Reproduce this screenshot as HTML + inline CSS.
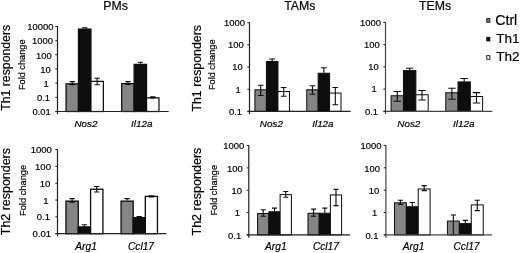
<!DOCTYPE html>
<html><head><meta charset="utf-8"><title>Figure</title>
<style>
html,body{margin:0;padding:0;background:#fff;}
svg{display:block;font-family:"Liberation Sans", sans-serif;}
svg text{fill:#000;stroke:#000;stroke-width:0.2px;}
</style></head><body>
<svg width="520" height="253" viewBox="0 0 520 253">
<defs><filter id="soft" x="0" y="0" width="520" height="253" filterUnits="userSpaceOnUse"><feGaussianBlur stdDeviation="0.3"/></filter></defs>
<rect width="520" height="253" fill="#fff"/>
<g filter="url(#soft)">
<rect x="66.03" y="83.83" width="12.45" height="27.67" fill="#858585" stroke="#0c0c0c" stroke-width="1.25"/>
<rect x="78.48" y="29.12" width="12.45" height="82.38" fill="#0c0c0c" stroke="#0c0c0c" stroke-width="1.25"/>
<rect x="90.93" y="81.38" width="12.45" height="30.12" fill="#fff" stroke="#0c0c0c" stroke-width="1.25"/>
<path d="M72.25 81.60V84.60M69.60 81.60H74.90M69.60 84.60H74.90" stroke="#0c0c0c" stroke-width="1.1" fill="none"/>
<path d="M84.71 27.90V28.50M82.06 27.90H87.36" stroke="#0c0c0c" stroke-width="1.1" fill="none"/>
<path d="M97.16 78.25V84.75M94.51 78.25H99.81M94.51 84.75H99.81" stroke="#0c0c0c" stroke-width="1.1" fill="none"/>
<rect x="121.72" y="83.62" width="12.41" height="27.88" fill="#858585" stroke="#0c0c0c" stroke-width="1.25"/>
<rect x="134.14" y="64.38" width="12.41" height="47.12" fill="#0c0c0c" stroke="#0c0c0c" stroke-width="1.25"/>
<rect x="146.55" y="97.83" width="12.41" height="13.67" fill="#fff" stroke="#0c0c0c" stroke-width="1.25"/>
<path d="M127.93 81.60V84.40M125.28 81.60H130.58M125.28 84.40H130.58" stroke="#0c0c0c" stroke-width="1.1" fill="none"/>
<path d="M140.34 62.25V63.75M137.69 62.25H143.00" stroke="#0c0c0c" stroke-width="1.1" fill="none"/>
<path d="M152.76 96.70V97.90M150.11 96.70H155.41M150.11 97.90H155.41" stroke="#0c0c0c" stroke-width="1.1" fill="none"/>
<path d="M57.50 26.00V114.30M55.50 111.50H168.70" stroke="#222" stroke-width="1.2" fill="none"/>
<path d="M55.30 26.50H57.50" stroke="#222" stroke-width="1"/>
<text x="53.60" y="30.30" font-size="9.45" text-anchor="end">10000</text>
<path d="M55.30 40.67H57.50" stroke="#222" stroke-width="1"/>
<text x="53.10" y="44.47" font-size="9.45" text-anchor="end">1000</text>
<path d="M55.30 54.83H57.50" stroke="#222" stroke-width="1"/>
<text x="51.70" y="58.63" font-size="9.45" text-anchor="end">100</text>
<path d="M55.30 69.00H57.50" stroke="#222" stroke-width="1"/>
<text x="50.80" y="72.80" font-size="9.45" text-anchor="end">10</text>
<path d="M55.30 83.17H57.50" stroke="#222" stroke-width="1"/>
<text x="48.80" y="86.97" font-size="9.45" text-anchor="end">1</text>
<path d="M55.30 97.33H57.50" stroke="#222" stroke-width="1"/>
<text x="50.10" y="101.13" font-size="9.45" text-anchor="end">0.1</text>
<path d="M55.30 111.50H57.50" stroke="#222" stroke-width="1"/>
<text x="50.80" y="115.30" font-size="9.45" text-anchor="end">0.01</text>
<text x="86.00" y="127.30" font-size="9.9" font-style="italic" stroke-width="0.48" text-anchor="middle">Nos2</text>
<text x="141.80" y="127.30" font-size="9.9" font-style="italic" stroke-width="0.48" text-anchor="middle">Il12a</text>
<rect x="254.90" y="89.80" width="11.52" height="21.60" fill="#858585" stroke="#0c0c0c" stroke-width="1.0"/>
<rect x="266.42" y="61.50" width="11.52" height="49.90" fill="#0c0c0c" stroke="#0c0c0c" stroke-width="1.0"/>
<rect x="277.93" y="91.50" width="11.52" height="19.90" fill="#fff" stroke="#0c0c0c" stroke-width="1.0"/>
<path d="M260.66 85.30V95.50M257.76 85.30H263.56M257.76 95.50H263.56" stroke="#0c0c0c" stroke-width="1.1" fill="none"/>
<path d="M272.18 59.00V61.00M269.28 59.00H275.07" stroke="#0c0c0c" stroke-width="1.1" fill="none"/>
<path d="M283.69 87.50V96.30M280.79 87.50H286.59M280.79 96.30H286.59" stroke="#0c0c0c" stroke-width="1.1" fill="none"/>
<rect x="306.75" y="89.80" width="11.42" height="21.60" fill="#858585" stroke="#0c0c0c" stroke-width="1.0"/>
<rect x="318.17" y="73.25" width="11.42" height="38.15" fill="#0c0c0c" stroke="#0c0c0c" stroke-width="1.0"/>
<rect x="329.58" y="93.10" width="11.42" height="18.30" fill="#fff" stroke="#0c0c0c" stroke-width="1.0"/>
<path d="M312.46 85.80V94.25M309.56 85.80H315.36M309.56 94.25H315.36" stroke="#0c0c0c" stroke-width="1.1" fill="none"/>
<path d="M323.88 67.75V72.75M320.98 67.75H326.77" stroke="#0c0c0c" stroke-width="1.1" fill="none"/>
<path d="M335.29 87.50V104.75M332.39 87.50H338.19M332.39 104.75H338.19" stroke="#0c0c0c" stroke-width="1.1" fill="none"/>
<path d="M249.50 22.25V114.20M247.50 111.40H350.60" stroke="#222" stroke-width="1.2" fill="none"/>
<path d="M247.30 22.75H249.50" stroke="#222" stroke-width="1"/>
<text x="245.10" y="26.05" font-size="9.45" text-anchor="end">1000</text>
<path d="M247.30 44.91H249.50" stroke="#222" stroke-width="1"/>
<text x="243.70" y="48.21" font-size="9.45" text-anchor="end">100</text>
<path d="M247.30 67.08H249.50" stroke="#222" stroke-width="1"/>
<text x="242.80" y="70.38" font-size="9.45" text-anchor="end">10</text>
<path d="M247.30 89.24H249.50" stroke="#222" stroke-width="1"/>
<text x="240.80" y="92.54" font-size="9.45" text-anchor="end">1</text>
<path d="M247.30 111.40H249.50" stroke="#222" stroke-width="1"/>
<text x="242.10" y="114.70" font-size="9.45" text-anchor="end">0.1</text>
<text x="271.40" y="126.90" font-size="9.9" font-style="italic" stroke-width="0.48" text-anchor="middle">Nos2</text>
<text x="322.90" y="126.90" font-size="9.9" font-style="italic" stroke-width="0.48" text-anchor="middle">Il12a</text>
<rect x="391.10" y="95.75" width="12.37" height="15.55" fill="#858585" stroke="#0c0c0c" stroke-width="1.0"/>
<rect x="403.47" y="70.60" width="12.37" height="40.70" fill="#0c0c0c" stroke="#0c0c0c" stroke-width="1.0"/>
<rect x="415.83" y="94.75" width="12.37" height="16.55" fill="#fff" stroke="#0c0c0c" stroke-width="1.0"/>
<path d="M397.28 91.50V101.25M393.58 91.50H400.98M393.58 101.25H400.98" stroke="#0c0c0c" stroke-width="1.1" fill="none"/>
<path d="M409.65 68.25V70.10M405.95 68.25H413.35" stroke="#0c0c0c" stroke-width="1.1" fill="none"/>
<path d="M422.02 90.50V100.00M418.32 90.50H425.72M418.32 100.00H425.72" stroke="#0c0c0c" stroke-width="1.1" fill="none"/>
<rect x="445.75" y="92.75" width="12.29" height="18.55" fill="#858585" stroke="#0c0c0c" stroke-width="1.0"/>
<rect x="458.04" y="81.90" width="12.29" height="29.40" fill="#0c0c0c" stroke="#0c0c0c" stroke-width="1.0"/>
<rect x="470.32" y="96.50" width="12.29" height="14.80" fill="#fff" stroke="#0c0c0c" stroke-width="1.0"/>
<path d="M451.89 88.25V99.25M448.19 88.25H455.59M448.19 99.25H455.59" stroke="#0c0c0c" stroke-width="1.1" fill="none"/>
<path d="M464.18 78.50V81.40M460.48 78.50H467.88" stroke="#0c0c0c" stroke-width="1.1" fill="none"/>
<path d="M476.47 92.60V103.00M472.77 92.60H480.17M472.77 103.00H480.17" stroke="#0c0c0c" stroke-width="1.1" fill="none"/>
<path d="M385.50 21.90V114.10M383.50 111.30H492.30" stroke="#444" stroke-width="1.2" fill="none"/>
<path d="M383.30 22.40H385.50" stroke="#222" stroke-width="1"/>
<text x="381.10" y="25.80" font-size="9.45" text-anchor="end">1000</text>
<path d="M383.30 44.62H385.50" stroke="#222" stroke-width="1"/>
<text x="379.70" y="48.02" font-size="9.45" text-anchor="end">100</text>
<path d="M383.30 66.85H385.50" stroke="#222" stroke-width="1"/>
<text x="378.80" y="70.25" font-size="9.45" text-anchor="end">10</text>
<path d="M383.30 89.08H385.50" stroke="#222" stroke-width="1"/>
<text x="376.80" y="92.48" font-size="9.45" text-anchor="end">1</text>
<path d="M383.30 111.30H385.50" stroke="#222" stroke-width="1"/>
<text x="378.10" y="114.70" font-size="9.45" text-anchor="end">0.1</text>
<text x="408.80" y="126.80" font-size="9.9" font-style="italic" stroke-width="0.48" text-anchor="middle">Nos2</text>
<text x="463.80" y="126.80" font-size="9.9" font-style="italic" stroke-width="0.48" text-anchor="middle">Il12a</text>
<rect x="65.95" y="201.15" width="12.32" height="32.55" fill="#858585" stroke="#0c0c0c" stroke-width="1.3"/>
<rect x="78.27" y="226.90" width="12.32" height="6.80" fill="#0c0c0c" stroke="#0c0c0c" stroke-width="1.3"/>
<rect x="90.58" y="189.25" width="12.32" height="44.45" fill="#fff" stroke="#0c0c0c" stroke-width="1.3"/>
<path d="M72.11 198.60V202.10M69.41 198.60H74.81M69.41 202.10H74.81" stroke="#0c0c0c" stroke-width="1.1" fill="none"/>
<path d="M84.42 224.75V226.25M81.72 224.75H87.12" stroke="#0c0c0c" stroke-width="1.1" fill="none"/>
<path d="M96.74 186.50V192.00M94.04 186.50H99.44M94.04 192.00H99.44" stroke="#0c0c0c" stroke-width="1.1" fill="none"/>
<rect x="121.05" y="201.15" width="12.14" height="32.55" fill="#858585" stroke="#0c0c0c" stroke-width="1.3"/>
<rect x="133.19" y="217.65" width="12.14" height="16.05" fill="#0c0c0c" stroke="#0c0c0c" stroke-width="1.3"/>
<rect x="145.32" y="196.40" width="12.14" height="37.30" fill="#fff" stroke="#0c0c0c" stroke-width="1.3"/>
<path d="M127.12 198.60V200.50M124.42 198.60H129.82" stroke="#0c0c0c" stroke-width="1.1" fill="none"/>
<path d="M139.25 216.60V217.00M136.56 216.60H141.95" stroke="#0c0c0c" stroke-width="1.1" fill="none"/>
<path d="M151.39 195.75V196.90M148.69 195.75H154.09M148.69 196.90H154.09" stroke="#0c0c0c" stroke-width="1.1" fill="none"/>
<path d="M57.50 149.00V236.50M55.50 233.70H166.30" stroke="#222" stroke-width="1.2" fill="none"/>
<path d="M55.30 149.50H57.50" stroke="#222" stroke-width="1"/>
<text x="51.90" y="153.10" font-size="9.55" text-anchor="end">1000</text>
<path d="M55.30 166.34H57.50" stroke="#222" stroke-width="1"/>
<text x="51.00" y="169.94" font-size="9.55" text-anchor="end">100</text>
<path d="M55.30 183.18H57.50" stroke="#222" stroke-width="1"/>
<text x="50.30" y="186.78" font-size="9.55" text-anchor="end">10</text>
<path d="M55.30 200.02H57.50" stroke="#222" stroke-width="1"/>
<text x="48.60" y="203.62" font-size="9.55" text-anchor="end">1</text>
<path d="M55.30 216.86H57.50" stroke="#222" stroke-width="1"/>
<text x="50.00" y="220.46" font-size="9.55" text-anchor="end">0.1</text>
<path d="M55.30 233.70H57.50" stroke="#222" stroke-width="1"/>
<text x="51.20" y="237.30" font-size="9.55" text-anchor="end">0.01</text>
<text x="86.10" y="250.30" font-size="10.2" font-style="italic" stroke-width="0.48" text-anchor="middle">Arg1</text>
<text x="141.00" y="250.30" font-size="10.2" font-style="italic" stroke-width="0.48" text-anchor="middle">Ccl17</text>
<rect x="257.60" y="213.50" width="11.27" height="21.40" fill="#858585" stroke="#0c0c0c" stroke-width="1.0"/>
<rect x="268.87" y="211.75" width="11.27" height="23.15" fill="#0c0c0c" stroke="#0c0c0c" stroke-width="1.0"/>
<rect x="280.13" y="194.60" width="11.27" height="40.30" fill="#fff" stroke="#0c0c0c" stroke-width="1.0"/>
<path d="M263.23 209.75V216.30M260.73 209.75H265.73M260.73 216.30H265.73" stroke="#0c0c0c" stroke-width="1.1" fill="none"/>
<path d="M274.50 208.10V211.25M272.00 208.10H277.00" stroke="#0c0c0c" stroke-width="1.1" fill="none"/>
<path d="M285.77 191.50V197.25M283.27 191.50H288.27M283.27 197.25H288.27" stroke="#0c0c0c" stroke-width="1.1" fill="none"/>
<rect x="308.00" y="213.25" width="11.20" height="21.65" fill="#858585" stroke="#0c0c0c" stroke-width="1.0"/>
<rect x="319.20" y="213.25" width="11.20" height="21.65" fill="#0c0c0c" stroke="#0c0c0c" stroke-width="1.0"/>
<rect x="330.39" y="194.90" width="11.20" height="40.00" fill="#fff" stroke="#0c0c0c" stroke-width="1.0"/>
<path d="M313.60 209.10V216.30M311.10 209.10H316.10M311.10 216.30H316.10" stroke="#0c0c0c" stroke-width="1.1" fill="none"/>
<path d="M324.80 208.10V212.75M322.30 208.10H327.30" stroke="#0c0c0c" stroke-width="1.1" fill="none"/>
<path d="M335.99 189.40V205.60M333.49 189.40H338.49M333.49 205.60H338.49" stroke="#0c0c0c" stroke-width="1.1" fill="none"/>
<path d="M248.80 145.00V237.70M246.80 234.90H350.00" stroke="#222" stroke-width="1.2" fill="none"/>
<path d="M246.60 145.50H248.80" stroke="#222" stroke-width="1"/>
<text x="244.20" y="149.30" font-size="9.45" text-anchor="end">1000</text>
<path d="M246.60 167.85H248.80" stroke="#222" stroke-width="1"/>
<text x="242.80" y="171.65" font-size="9.45" text-anchor="end">100</text>
<path d="M246.60 190.20H248.80" stroke="#222" stroke-width="1"/>
<text x="241.90" y="194.00" font-size="9.45" text-anchor="end">10</text>
<path d="M246.60 212.55H248.80" stroke="#222" stroke-width="1"/>
<text x="239.90" y="216.35" font-size="9.45" text-anchor="end">1</text>
<path d="M246.60 234.90H248.80" stroke="#222" stroke-width="1"/>
<text x="241.20" y="238.70" font-size="9.45" text-anchor="end">0.1</text>
<text x="275.80" y="250.00" font-size="10.2" font-style="italic" stroke-width="0.48" text-anchor="middle">Arg1</text>
<text x="325.90" y="250.00" font-size="10.2" font-style="italic" stroke-width="0.48" text-anchor="middle">Ccl17</text>
<rect x="394.50" y="202.75" width="11.87" height="32.15" fill="#858585" stroke="#0c0c0c" stroke-width="1.0"/>
<rect x="406.37" y="206.75" width="11.87" height="28.15" fill="#0c0c0c" stroke="#0c0c0c" stroke-width="1.0"/>
<rect x="418.23" y="189.00" width="11.87" height="45.90" fill="#fff" stroke="#0c0c0c" stroke-width="1.0"/>
<path d="M400.43 200.25V204.40M397.83 200.25H403.03M397.83 204.40H403.03" stroke="#0c0c0c" stroke-width="1.1" fill="none"/>
<path d="M412.30 202.50V206.25M409.70 202.50H414.90" stroke="#0c0c0c" stroke-width="1.1" fill="none"/>
<path d="M424.17 185.60V190.60M421.57 185.60H426.77M421.57 190.60H426.77" stroke="#0c0c0c" stroke-width="1.1" fill="none"/>
<rect x="447.40" y="221.10" width="11.95" height="13.80" fill="#858585" stroke="#0c0c0c" stroke-width="1.0"/>
<rect x="459.35" y="223.60" width="11.95" height="11.30" fill="#0c0c0c" stroke="#0c0c0c" stroke-width="1.0"/>
<rect x="471.29" y="204.90" width="11.95" height="30.00" fill="#fff" stroke="#0c0c0c" stroke-width="1.0"/>
<path d="M453.37 215.00V234.80M450.77 215.00H455.97M450.77 234.80H455.97" stroke="#0c0c0c" stroke-width="1.1" fill="none"/>
<path d="M465.32 220.40V223.10M462.72 220.40H467.92" stroke="#0c0c0c" stroke-width="1.1" fill="none"/>
<path d="M477.27 200.25V210.60M474.67 200.25H479.87M474.67 210.60H479.87" stroke="#0c0c0c" stroke-width="1.1" fill="none"/>
<path d="M385.90 144.90V237.70M383.90 234.90H491.90" stroke="#444" stroke-width="1.2" fill="none"/>
<path d="M383.70 145.40H385.90" stroke="#222" stroke-width="1"/>
<text x="381.50" y="149.20" font-size="9.45" text-anchor="end">1000</text>
<path d="M383.70 167.78H385.90" stroke="#222" stroke-width="1"/>
<text x="380.10" y="171.58" font-size="9.45" text-anchor="end">100</text>
<path d="M383.70 190.15H385.90" stroke="#222" stroke-width="1"/>
<text x="379.20" y="193.95" font-size="9.45" text-anchor="end">10</text>
<path d="M383.70 212.53H385.90" stroke="#222" stroke-width="1"/>
<text x="377.20" y="216.33" font-size="9.45" text-anchor="end">1</text>
<path d="M383.70 234.90H385.90" stroke="#222" stroke-width="1"/>
<text x="378.50" y="238.70" font-size="9.45" text-anchor="end">0.1</text>
<text x="413.60" y="250.00" font-size="10.2" font-style="italic" stroke-width="0.48" text-anchor="middle">Arg1</text>
<text x="466.50" y="250.00" font-size="10.2" font-style="italic" stroke-width="0.48" text-anchor="middle">Ccl17</text>
<text x="115.6" y="9.8" font-size="12.3" stroke-width="0.12" text-anchor="middle">PMs</text>
<text x="299.8" y="10.2" font-size="12.3" stroke-width="0.12" text-anchor="middle">TAMs</text>
<text x="435" y="10.2" font-size="12.3" stroke-width="0.12" text-anchor="middle">TEMs</text>
<text stroke-width="0.18" transform="translate(9.80 67.80) rotate(-90)" font-size="12.28" text-anchor="middle">Th1 responders</text>
<text stroke-width="0.18" transform="translate(9.90 191.60) rotate(-90)" font-size="12.45" text-anchor="middle">Th2 responders</text>
<text stroke-width="0.18" transform="translate(24.60 64.80) rotate(-90)" font-size="9.2" text-anchor="middle">Fold change</text>
<text stroke-width="0.18" transform="translate(25.80 190.40) rotate(-90)" font-size="9.3" text-anchor="middle">Fold change</text>
<text stroke-width="0.18" transform="translate(200.70 68.30) rotate(-90)" font-size="12.35" text-anchor="middle">Th1 responders</text>
<text stroke-width="0.18" transform="translate(200.70 191.60) rotate(-90)" font-size="12.55" text-anchor="middle">Th2 responders</text>
<text stroke-width="0.18" transform="translate(214.50 64.80) rotate(-90)" font-size="9.2" text-anchor="middle">Fold change</text>
<text stroke-width="0.18" transform="translate(217.40 190.30) rotate(-90)" font-size="9.2" text-anchor="middle">Fold change</text>
<rect x="486.75" y="18.65" width="3.1" height="3.6" fill="#858585" stroke="#0c0c0c" stroke-width="0.9"/>
<text x="495.2" y="24.7" font-size="14.2" stroke-width="0.1">Ctrl</text>
<rect x="486.75" y="37.35" width="3.1" height="3.6" fill="#111" stroke="#0c0c0c" stroke-width="0.9"/>
<text x="496.2" y="42.8" font-size="13.5" stroke-width="0.1">Th1</text>
<rect x="486.75" y="55.65" width="3.1" height="3.6" fill="#fff" stroke="#0c0c0c" stroke-width="0.9"/>
<text x="496.2" y="61.2" font-size="13.5" stroke-width="0.1">Th2</text>
</g>
</svg>
</body></html>
